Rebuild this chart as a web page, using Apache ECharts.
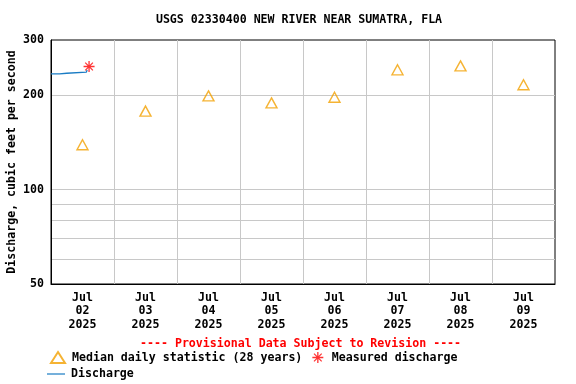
<!DOCTYPE html>
<html>
<head>
<meta charset="utf-8">
<script src="https://cdn.jsdelivr.net/npm/echarts@6/dist/echarts.min.js"></script>
<style>html,body{margin:0;padding:0;background:#fff;}#c{width:576px;height:384px;}</style>
</head>
<body>
<div id="c"></div>
<script>
// ---- data ----
const titleText = 'USGS 02330400 NEW RIVER NEAR SUMATRA, FLA';
const yAxisName = 'Discharge, cubic feet per second';
const provisionalText = '---- Provisional Data Subject to Revision ----';
const medianDates = ['2025-07-02 12:00','2025-07-03 12:00','2025-07-04 12:00','2025-07-05 12:00','2025-07-06 12:00','2025-07-07 12:00','2025-07-08 12:00','2025-07-09 12:00'];
const medianValues = [139, 178, 199, 189, 197, 241, 248, 216];
const dischargeTimes = ['2025-07-02 00:00','2025-07-02 03:15','2025-07-02 03:30','2025-07-02 06:00','2025-07-02 06:15','2025-07-02 13:30','2025-07-02 13:45'];
const dischargeValues = [234, 234, 235, 235, 237, 237, 241];
const measuredTimes = ['2025-07-02 14:30'];
const measuredValues = [247];
const yLabelValues = [50, 100, 200, 300];
const yGridValues = [60, 70, 80, 90, 100, 200];
const xStart = '2025-07-02 00:00';
const xEnd = '2025-07-10 00:00';
const dayLabels = ['2025-07-02 12:00','2025-07-03 12:00','2025-07-04 12:00','2025-07-05 12:00','2025-07-06 12:00','2025-07-07 12:00','2025-07-08 12:00','2025-07-09 12:00'];
const dayGrid = ['2025-07-03 00:00','2025-07-04 00:00','2025-07-05 00:00','2025-07-06 00:00','2025-07-07 00:00','2025-07-08 00:00','2025-07-09 00:00'];

function ts(s){ const [d,t]=s.split(' '); const [Y,M,D]=d.split('-').map(Number); const [h,m]=t.split(':').map(Number); return new Date(Y,M-1,D,h,m).getTime(); }
const MON = ['Jan','Feb','Mar','Apr','May','Jun','Jul','Aug','Sep','Oct','Nov','Dec'];
const FONT = 'DejaVu Sans Mono';
const FS = 11.6;
const MEDIAN_COLOR = '#f2a000';
const RED = '#ff0000';
const BLUE = '#1a7cc4';
const asterisk = 'path://M-0.6,-5 L0.6,-5 L0.6,5 L-0.6,5 Z M-5,-0.6 L5,-0.6 L5,0.6 L-5,0.6 Z M-3.9,-3.1 L-3.1,-3.9 L3.9,3.1 L3.1,3.9 Z M3.1,-3.9 L3.9,-3.1 L-3.1,3.9 L-3.9,3.1 Z';

const chart = echarts.init(document.getElementById('c'), null, {renderer:'canvas'});
chart.setOption({
  backgroundColor: '#fff',
  animation: false,
  title: {
    text: titleText, left: 294, top: 9, textAlign: 'center',
    textStyle: {fontFamily: FONT, fontWeight: 'bold', fontSize: FS, color: '#000'}
  },
  grid: {left: 51, right: 21, top: 40, bottom: 100, outerBoundsMode: 'none', containLabel: false,
         show: true, borderColor: '#000', borderWidth: 1, backgroundColor: 'transparent'},
  xAxis: {
    type: 'value', min: ts(xStart), max: ts(xEnd),
    axisLine: {show: true, lineStyle: {color: '#000'}},
    axisTick: {show: false, customValues: dayGrid.map(ts)},
    splitLine: {show: true, lineStyle: {color: '#c8c8c8', width: 1}},
    axisLabel: {
      customValues: dayLabels.map(ts),
      margin: 7, lineHeight: 13.5,
      fontFamily: FONT, fontWeight: 'bold', fontSize: FS, color: '#000',
      formatter: function(v){ const d=new Date(v); return MON[d.getMonth()]+'\n'+String(d.getDate()).padStart(2,'0')+'\n'+d.getFullYear(); }
    }
  },
  yAxis: {
    type: 'log', logBase: 10, min: 50, max: 300,
    name: yAxisName, nameLocation: 'middle', nameRotate: 90, nameGap: 33, nameMoveOverlap: false,
    nameTextStyle: {fontFamily: FONT, fontWeight: 'bold', fontSize: FS, color: '#000'},
    axisLine: {show: true, lineStyle: {color: '#000'}},
    axisTick: {show: false, customValues: yGridValues},
    splitLine: {show: true, lineStyle: {color: '#c8c8c8', width: 1}},
    axisLabel: {customValues: yLabelValues, margin: 7, fontFamily: FONT, fontWeight: 'bold', fontSize: FS, color: '#000'}
  },
  legend: [
    {
      left: 50, top: 351, padding: 0, itemGap: 10, itemWidth: 14, itemHeight: 11,
      textStyle: {fontFamily: FONT, fontWeight: 'bold', fontSize: FS, color: '#000', padding: [0,0,0,2]},
      data: [{name: 'Median daily statistic (28 years)'}, {name: 'Measured discharge'}]
    },
    {
      left: 47, top: 368, padding: 0, itemWidth: 18, itemHeight: 11,
      textStyle: {fontFamily: FONT, fontWeight: 'bold', fontSize: FS, color: '#000', padding: [0,0,0,1]},
      data: [{name: 'Discharge', icon: 'path://M0,5 L18,5 L18,6.2 L0,6.2 Z'}]
    }
  ],
  graphic: [{
    type: 'text', left: 140, top: 338,
    style: {text: provisionalText, fill: RED, font: 'bold 11.6px "DejaVu Sans Mono"'}
  }],
  series: [
    {
      name: 'Discharge', type: 'line', showSymbol: false, symbol: 'none',
      data: dischargeTimes.map((t,i)=>[ts(t), dischargeValues[i]]),
      lineStyle: {color: BLUE, width: 1.3}, itemStyle: {color: BLUE}, z: 3
    },
    {
      name: 'Median daily statistic (28 years)', type: 'scatter', symbol: 'triangle', symbolSize: [11, 10],
      data: medianDates.map((t,i)=>[ts(t), medianValues[i]]),
      itemStyle: {color: 'rgba(0,0,0,0)', borderColor: MEDIAN_COLOR, borderWidth: 1.4}, z: 4
    },
    {
      name: 'Measured discharge', type: 'scatter', symbol: asterisk, symbolSize: 11,
      data: measuredTimes.map((t,i)=>[ts(t), measuredValues[i]]),
      itemStyle: {color: RED}, z: 5
    }
  ]
});
</script>
</body>
</html>
